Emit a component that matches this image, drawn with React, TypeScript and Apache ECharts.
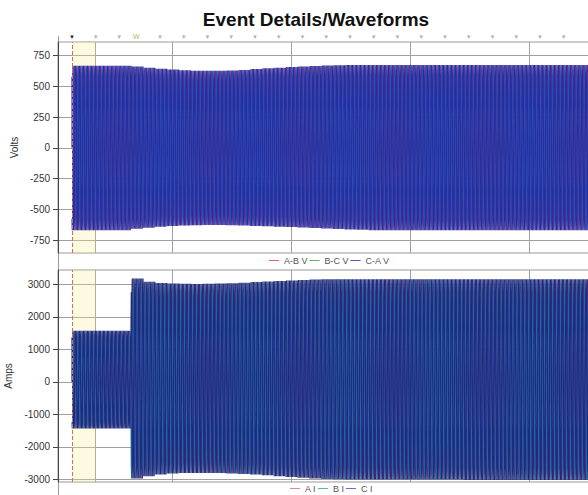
import React, { useEffect, useRef } from "react";
import * as echarts from "echarts";

const FONT = "Liberation Sans, Arial, sans-serif";
const TITLE = "Event Details/Waveforms";
const VOLT_NAMES = ["A-B V", "B-C V", "C-A V"];
const AMP_NAMES = ["A I", "B I", "C I"];

// time (ms)
const X_MIN = 16.85;
const X_MAX = 2384;
const TRIGGER_MS = 75.8;
const CURSOR_MS = 175.7;
const W_MARK_MS = 346.3;
const GRID_TIMES = [500, 1000, 1500, 2000];
const MARKER_TIMES = [
  75.8, 175.7, 275.1, 446.5, 546.5, 646.5, 746.5, 846.5, 946.5, 1046.5, 1146.5, 1246.5, 1346.5,
  1446.5, 1546.5, 1646.5, 1746.5, 1846.5, 1946.5, 2046.5, 2146.5,
];

const VOLT_TICKS = [-750, -500, -250, 0, 250, 500, 750];
const AMP_TICKS = [-3000, -2000, -1000, 0, 1000, 2000, 3000];

// one sampled cycle (12 samples), normalised
const CYCLE_SHAPE = [0, 0.5, 0.866, 1, 0.866, 0.5, 0, -0.5, -0.866, -1, -0.866, -0.5];
const CYCLE_MS = 16.667;
const BIN_CYCLES = 3;

// peak envelopes per 3-cycle bin
const VOLT_UPPER = [
  666, 666, 666, 666, 666, 660, 650, 642, 636, 630, 627, 626, 626, 628, 633, 640, 646, 651, 656,
  661, 665, 668, 670, 672, 672, 672, 672, 672, 672, 672, 672, 672, 672, 672, 672, 672, 672, 672,
  672, 672, 672, 672, 672, 672, 672, 672,
];
const VOLT_LOWER = [
  -669, -669, -669, -669, -669, -658, -650, -642, -636, -632, -629, -628, -628, -630, -632, -635,
  -638, -641, -644, -648, -652, -656, -660, -663, -666, -669, -669, -669, -669, -669, -669, -669,
  -669, -669, -669, -669, -669, -669, -669, -669, -669, -669, -669, -669, -669, -669,
];
const AMP_UPPER = [
  1572, 1572, 1572, 1572, 1572, 3180, 3080, 3040, 3025, 3015, 3010, 3015, 3025, 3035, 3050, 3070,
  3085, 3100, 3120, 3135, 3145, 3155, 3155, 3155, 3155, 3155, 3155, 3155, 3155, 3155, 3155, 3155,
  3155, 3155, 3155, 3155, 3155, 3155, 3155, 3155, 3155, 3155, 3155, 3155, 3155, 3155,
];
const AMP_LOWER = [
  -1436, -1436, -1436, -1436, -1436, -2975, -2900, -2850, -2820, -2805, -2800, -2800, -2805, -2815,
  -2830, -2850, -2875, -2900, -2925, -2950, -2970, -2985, -2995, -3000, -3000, -3000, -3000, -3000,
  -3000, -3000, -3000, -3000, -3000, -3020, -3020, -3020, -3020, -3020, -3020, -3020, -3020, -3020,
  -3020, -3020, -3020, -3020,
];

const PHASE_OFFSETS = [0, 8, 4];

const VOLT_COLORS = ["#7a2a80", "#2c4cb8", "#2230a0"];
const AMP_COLORS = ["#5a2070", "#1f6a98", "#1e2a88"];
const VOLT_LEGEND = ["#e06060", "#60b060", "#5050d0"];
const AMP_LEGEND = ["#e08898", "#50b8b8", "#6a6ad8"];

function buildWave(upper: number[], lower: number[], offset: number) {
  const n = CYCLE_SHAPE.length;
  const perBin = BIN_CYCLES * n;
  const total = upper.length * perBin;
  const out: number[][] = [];
  for (let i = 0; i < total; i++) {
    const bin = Math.floor(i / perBin);
    const s = CYCLE_SHAPE[(i + offset) % n];
    const v = s >= 0 ? s * upper[bin] : -s * lower[bin];
    out.push([TRIGGER_MS + (i * CYCLE_MS) / n, v]);
  }
  return out;
}

function range(a: number, b: number, step: number) {
  const r: number[] = [];
  for (let v = a; v <= b; v += step) r.push(v);
  return r;
}

export default function App() {
  const ref = useRef<HTMLDivElement>(null);
  useEffect(() => {
    if (!ref.current) return;
    const chart = echarts.init(ref.current, undefined, { renderer: "svg" });

    const band = {
      silent: true,
      itemStyle: { color: "rgba(250,238,140,0.28)" },
      data: [[{ xAxis: TRIGGER_MS }, { xAxis: CURSOR_MS }]],
    };
    const trigLine = {
      silent: true,
      symbol: ["none", "none"],
      label: { show: false },
      lineStyle: { color: "#d86a6a", type: "dashed", width: 1 },
      data: [{ xAxis: TRIGGER_MS }],
    };

    const mk = (names: string[], colors: string[], upper: number[], lower: number[], xi: number, yi: number) =>
      names.map((name, i) => ({
        name,
        type: "line",
        xAxisIndex: xi,
        yAxisIndex: yi,
        showSymbol: false,
        symbol: "none",
        lineStyle: { width: 1.3, color: colors[i] },
        itemStyle: { color: colors[i] },
        data: buildWave(upper, lower, PHASE_OFFSETS[i]),
        ...(i === 0 ? { markArea: band, markLine: trigLine } : {}),
      }));

    const legendBase = {
      itemWidth: 10,
      itemHeight: 1,
      itemGap: 2,
      icon: "rect",
      padding: 0,
      selectedMode: false,
      textStyle: { fontSize: 9, color: "#555", fontFamily: FONT },
    };

    const plain = (v: number) => String(v);
    const yCommon = {
      type: "value",
      axisLine: { show: true, lineStyle: { color: "#444", width: 1 } },
      splitLine: { show: true, lineStyle: { color: "#a0a0a0", width: 1 } },
      nameLocation: "middle",
      nameGap: 38,
      nameTextStyle: { fontSize: 10, color: "#333", fontFamily: FONT },
    };
    const labelStyle = { fontSize: 10, color: "#333", fontFamily: FONT, margin: 8, formatter: plain };
    const yMinor = {
      type: "value",
      axisLine: { show: false },
      axisLabel: { show: false },
      splitLine: { show: false },
    };
    const xMain = {
      type: "value",
      min: X_MIN,
      max: X_MAX,
      axisLine: { show: false },
      axisTick: { show: false, customValues: [CURSOR_MS, ...GRID_TIMES] },
      axisLabel: { show: false, customValues: [CURSOR_MS, ...GRID_TIMES] },
      splitLine: { show: true, lineStyle: { color: "#a0a0a0", width: 1 } },
    };
    const gridBase = {
      left: 58,
      width: 562,
      show: true,
      borderColor: "#999",
      borderWidth: 1,
      backgroundColor: "#fff",
      containLabel: false,
      outerBoundsMode: "none",
    };

    chart.setOption({
      animation: false,
      backgroundColor: "#ffffff",
      title: {
        text: TITLE,
        left: "center",
        top: 10,
        padding: 0,
        textStyle: { fontSize: 19, fontWeight: "bold", color: "#111", fontFamily: FONT },
      },
      legend: [
        {
          ...legendBase,
          left: 269,
          top: 256,
          data: VOLT_NAMES.map((n, i) => ({ name: n, itemStyle: { color: VOLT_LEGEND[i] } })),
        },
        {
          ...legendBase,
          left: 290,
          top: 484,
          data: AMP_NAMES.map((n, i) => ({ name: n, itemStyle: { color: AMP_LEGEND[i] } })),
        },
      ],
      grid: [
        { ...gridBase, top: 42, height: 211 },
        { ...gridBase, top: 270, height: 212 },
      ],
      xAxis: [
        { ...xMain, gridIndex: 0 },
        {
          type: "value",
          gridIndex: 0,
          position: "top",
          min: X_MIN,
          max: X_MAX,
          axisLine: { show: false },
          axisTick: { show: false },
          splitLine: { show: false },
          axisLabel: {
            customValues: [...MARKER_TIMES, W_MARK_MS],
            margin: 2,
            fontSize: 6,
            color: "#b0b0b0",
            fontFamily: FONT,
            formatter: (v: number) => {
              if (Math.abs(v - W_MARK_MS) < 0.01) return "{w|W}";
              if (Math.abs(v - TRIGGER_MS) < 0.01) return "{d|▼}";
              return "▼";
            },
            rich: {
              w: { fontSize: 7, color: "#b8b850", fontFamily: FONT },
              d: { fontSize: 6, color: "#3a2020" },
            },
          },
        },
        { ...xMain, gridIndex: 1 },
      ],
      yAxis: [
        {
          ...yCommon,
          gridIndex: 0,
          min: -855,
          max: 860,
          name: "Volts",
          axisTick: { show: true, length: 5, customValues: VOLT_TICKS, lineStyle: { color: "#444" } },
          axisLabel: { ...labelStyle, customValues: VOLT_TICKS },
        },
        {
          ...yMinor,
          gridIndex: 0,
          min: -855,
          max: 860,
          axisTick: { show: true, length: 3, customValues: range(-850, 850, 50), lineStyle: { color: "#777" } },
        },
        {
          ...yCommon,
          gridIndex: 1,
          min: -3080,
          max: 3440,
          name: "Amps",
          axisTick: { show: true, length: 5, customValues: AMP_TICKS, lineStyle: { color: "#444" } },
          axisLabel: { ...labelStyle, customValues: AMP_TICKS },
        },
        {
          ...yMinor,
          gridIndex: 1,
          min: -3080,
          max: 3440,
          axisTick: { show: true, length: 3, customValues: range(-3000, 3400, 200), lineStyle: { color: "#777" } },
        },
      ],
      graphic: [
        {
          type: "line",
          shape: { x1: 58.5, y1: 36, x2: 58.5, y2: 495 },
          style: { stroke: "#999", lineWidth: 1 },
          z: 0,
          silent: true,
        },
      ],
      series: [
        ...mk(VOLT_NAMES, VOLT_COLORS, VOLT_UPPER, VOLT_LOWER, 0, 0),
        ...mk(AMP_NAMES, AMP_COLORS, AMP_UPPER, AMP_LOWER, 2, 2),
      ],
    });

    return () => chart.dispose();
  }, []);

  return (
    <div style={{ position: "fixed", left: 0, top: 0, width: 588, height: 495, overflow: "hidden", background: "#fff" }}>
      <div ref={ref} style={{ width: 632, height: 495 }} />
    </div>
  );
}
